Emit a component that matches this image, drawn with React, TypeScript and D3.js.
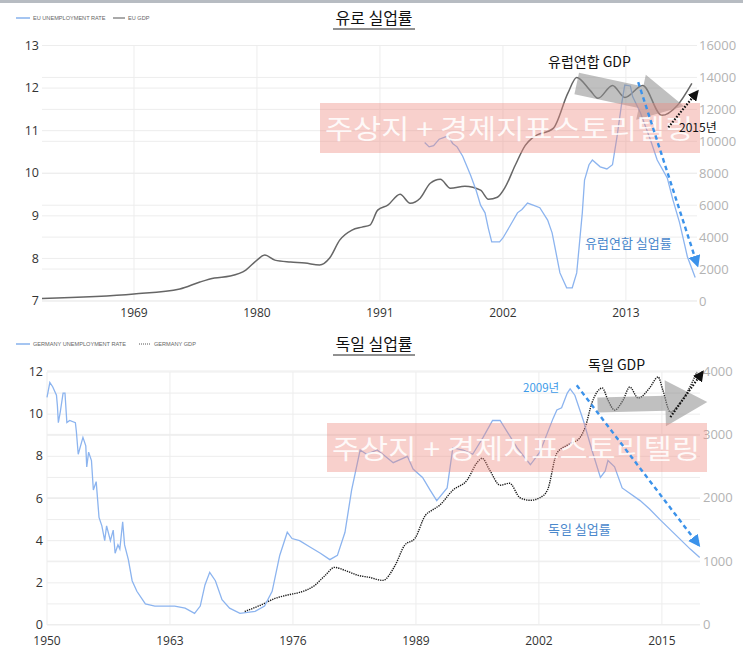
import React from "react";
import * as d3 from "d3";

// ---- Euro area: unemployment rate (%), [year, value]
const euUnemployment: [number, number][] = [
  [1995.0, 10.72], [1995.4, 10.62], [1995.8, 10.65], [1996.3, 10.8], [1996.8, 10.85],
  [1997.1, 10.88], [1997.5, 10.7], [1997.9, 10.62], [1998.4, 10.4], [1999.1, 9.96],
  [1999.6, 9.6], [2000.0, 9.25], [2000.4, 9.07], [2000.7, 8.7], [2001.0, 8.39],
  [2001.7, 8.39], [2002.0, 8.48], [2002.6, 8.75], [2003.3, 9.07], [2003.7, 9.15],
  [2004.2, 9.3], [2004.7, 9.25], [2005.3, 9.19], [2006.0, 8.9], [2006.4, 8.6],
  [2006.7, 8.2], [2007.1, 7.66], [2007.7, 7.31], [2008.2, 7.31], [2008.6, 7.66],
  [2009.1, 9.07], [2009.3, 9.84], [2009.7, 10.2], [2010.0, 10.31], [2010.7, 10.15],
  [2011.3, 10.1], [2011.8, 10.2], [2012.2, 10.85], [2012.6, 11.6], [2012.9, 12.07],
  [2013.4, 12.05], [2013.6, 11.8], [2014.3, 11.42], [2015.2, 10.78], [2015.8, 10.31],
  [2016.7, 9.89], [2017.2, 9.38], [2017.8, 8.84], [2018.5, 8.04], [2019.2, 7.55],
];

// ---- Euro area: GDP (billion USD), [year, value]
const euGdp: [number, number][] = [
  [1960.77, 160], [1969.0, 440], [1973.1, 750], [1974.9, 1190], [1976.2, 1440],
  [1977.6, 1560], [1979.0, 1940], [1980.0, 2560], [1980.7, 2875], [1981.6, 2560],
  [1983.0, 2440], [1984.3, 2375], [1985.6, 2250], [1986.5, 2690], [1987.4, 3810],
  [1988.5, 4440], [1989.4, 4625], [1990.1, 4750], [1990.8, 5690], [1991.7, 6000],
  [1992.8, 6690], [1993.7, 6125], [1994.6, 6440], [1995.5, 7375], [1996.4, 7625],
  [1997.3, 7060], [1998.6, 7190], [2000.0, 6940], [2000.7, 6375], [2001.5, 6500],
  [2002.2, 7125], [2003.1, 8500], [2004.0, 9750], [2004.7, 10250], [2006.5, 10810],
  [2007.8, 13000], [2008.6, 14000], [2009.8, 13190], [2010.5, 12690], [2011.8, 13500],
  [2012.9, 12750], [2014.5, 13500], [2016.2, 11625], [2017.6, 12250], [2018.9, 13625],
];

// ---- Germany: unemployment rate (%), [year, value]
const deUnemployment: [number, number][] = [
  [1950.0, 10.8], [1950.3, 11.5], [1950.6, 11.3], [1951.0, 10.9], [1951.1, 10.4],
  [1951.2, 9.6], [1951.4, 10.1], [1951.7, 11.0], [1951.9, 11.0], [1952.1, 9.6],
  [1952.4, 9.7], [1953.0, 9.6], [1953.1, 9.2], [1953.3, 8.1], [1953.8, 8.9],
  [1954.1, 8.5], [1954.2, 7.5], [1954.4, 8.2], [1954.7, 7.8], [1954.9, 6.4],
  [1955.2, 6.8], [1955.5, 5.1], [1955.8, 4.7], [1956.1, 4.0], [1956.3, 4.7],
  [1956.7, 4.0], [1957.0, 4.5], [1957.2, 3.4], [1957.5, 3.8], [1957.7, 3.6],
  [1958.0, 4.9], [1958.2, 3.8], [1958.6, 3.1], [1959.0, 2.1], [1959.5, 1.6],
  [1960.4, 1.0], [1961.4, 0.9], [1963.5, 0.9], [1964.6, 0.8], [1965.6, 0.55],
  [1966.2, 0.9], [1966.7, 1.9], [1967.2, 2.5], [1967.8, 2.1], [1968.5, 1.2],
  [1969.3, 0.8], [1970.4, 0.55], [1972.0, 0.65], [1973.0, 0.9], [1973.8, 1.6],
  [1974.6, 3.3], [1975.4, 4.4], [1975.9, 4.1], [1976.7, 4.0], [1977.8, 3.7],
  [1978.9, 3.4], [1979.9, 3.1], [1980.7, 3.3], [1981.5, 4.4], [1982.2, 6.4],
  [1983.1, 8.3], [1983.8, 8.1], [1984.9, 8.3], [1985.5, 8.1], [1986.6, 7.7],
  [1988.1, 8.0], [1988.7, 7.4], [1989.7, 7.0], [1990.5, 6.4], [1991.2, 5.9],
  [1992.3, 6.5], [1992.9, 8.4], [1994.0, 8.3], [1995.0, 8.1], [1996.1, 8.9],
  [1997.1, 9.7], [1997.9, 9.7], [1998.6, 9.2], [1999.7, 8.4], [2001.1, 7.6],
  [2002.1, 8.2], [2003.5, 9.8], [2003.9, 10.2], [2004.4, 10.3], [2005.0, 11.0],
  [2005.3, 11.2], [2005.8, 10.9], [2006.7, 9.7], [2007.6, 8.3], [2008.5, 7.0],
  [2009.0, 7.3], [2009.3, 7.8], [2010.0, 7.5], [2010.8, 6.5], [2012.7, 5.9],
  [2013.7, 5.5], [2014.8, 5.0], [2016.4, 4.3], [2018.0, 3.6], [2019.0, 3.2],
];

// ---- Germany: GDP (billion USD), [year, value]
const deGdp: [number, number][] = [
  [1970.9, 205], [1972.5, 300], [1974.1, 411], [1975.7, 474], [1976.7, 506],
  [1978.3, 617], [1979.4, 775], [1980.4, 901], [1981.5, 854], [1982.9, 775],
  [1984.1, 743], [1985.5, 696], [1986.8, 933], [1987.8, 1249], [1988.9, 1360],
  [1990.0, 1723], [1990.7, 1802], [1991.5, 1881], [1992.9, 2119], [1994.4, 2277],
  [1995.5, 2561], [1996.0, 2624], [1996.8, 2435], [1997.9, 2198], [1998.9, 2229],
  [2000.0, 2000], [2001.1, 1960], [2002.1, 2000], [2002.9, 2119], [2003.9, 2704],
  [2005.0, 2830], [2006.3, 2941], [2006.9, 3115], [2007.6, 3494], [2008.7, 3731],
  [2009.3, 3541], [2010.0, 3383], [2010.9, 3541], [2011.6, 3747], [2012.5, 3573],
  [2013.7, 3731], [2014.6, 3905], [2015.1, 3700], [2015.9, 3352], [2016.9, 3494],
  [2017.8, 3700], [2018.7, 3984],
];

// ---- Axis ticks
const euYearTicks = [1969, 1980, 1991, 2002, 2013];
const euRateTicks = [7, 8, 9, 10, 11, 12, 13];
const euGdpTicks = [0, 2000, 4000, 6000, 8000, 10000, 12000, 14000, 16000];
const deYearTicks = [1950, 1963, 1976, 1989, 2002, 2015];
const deRateTicks = [0, 2, 4, 6, 8, 10, 12];
const deRateGrid = [0, 1, 2, 3, 4, 5, 6, 7, 8, 9, 10, 11, 12];
const deGdpTicks = [0, 1000, 2000, 3000, 4000];

const KR = "'Noto Sans CJK KR', 'Noto Sans', sans-serif";
const NUM = "'Open Sans', 'DejaVu Sans', sans-serif";
const BLUE_LINE = "#8cb4ef";
const GRID = "#ededed";

// Polygon of a broad block arrow from (x1,y1) to (x2,y2)
function blockArrow(x1: number, y1: number, x2: number, y2: number, shaft: number, head: number, headLen: number) {
  const dx = x2 - x1, dy = y2 - y1;
  const L = Math.hypot(dx, dy);
  const ux = dx / L, uy = dy / L;
  const nx = -uy, ny = ux;
  const bx = x2 - ux * headLen, by = y2 - uy * headLen;
  const pts: [number, number][] = [
    [x1 + nx * shaft / 2, y1 + ny * shaft / 2],
    [bx + nx * shaft / 2, by + ny * shaft / 2],
    [bx + nx * head / 2, by + ny * head / 2],
    [x2, y2],
    [bx - nx * head / 2, by - ny * head / 2],
    [bx - nx * shaft / 2, by - ny * shaft / 2],
    [x1 - nx * shaft / 2, y1 - ny * shaft / 2],
  ];
  return pts.map((p) => p.join(",")).join(" ");
}

function Panel(props: {
  title: string;
  titleY: number;
  legend: [string, string];
  legendY: number;
  legendGap: number;
  gdpDotted: boolean;
  x: d3.ScaleLinear<number, number>;
  yL: d3.ScaleLinear<number, number>;
  yR: d3.ScaleLinear<number, number>;
  yearTicks: number[];
  rateTicks: number[];
  rateGrid: number[];
  gdpTicks: number[];
  rate: [number, number][];
  gdp: [number, number][];
  leftLabelX: number;
  rightLabelX: number;
  yearLabelY: number;
  children?: React.ReactNode;
}) {
  const { x, yL, yR } = props;
  const [x0, x1] = x.range();
  const [yb, yt] = yL.range();
  const rateLine = d3.line<[number, number]>().x((d) => x(d[0])).y((d) => yL(d[1])).curve(d3.curveLinear);
  const gdpLine = d3.line<[number, number]>().x((d) => x(d[0])).y((d) => yR(d[1])).curve(d3.curveMonotoneX);
  const lx = 16;
  const g = props.legendGap;
  return (
    <g>
      {/* legend */}
      <line x1={lx} x2={lx + 14} y1={props.legendY} y2={props.legendY} stroke="#6a9ee8" strokeWidth={1.2} />
      <text x={lx + 17} y={props.legendY + 2} fontSize={5.6} fontFamily="'Liberation Sans', Arial, sans-serif" fill="#666">
        {props.legend[0]}
      </text>
      <line
        x1={lx + 97 + g}
        x2={lx + 109 + g}
        y1={props.legendY}
        y2={props.legendY}
        stroke="#555"
        strokeWidth={1}
        strokeDasharray={props.gdpDotted ? "1,1" : undefined}
      />
      <text x={lx + 112 + g} y={props.legendY + 2} fontSize={5.6} fontFamily="'Liberation Sans', Arial, sans-serif" fill="#666">
        {props.legend[1]}
      </text>

      {/* title */}
      <text x={374} y={props.titleY} textAnchor="middle" fontSize={16} fontFamily={KR} fill="#111">
        {props.title}
      </text>
      <line x1={333} x2={415} y1={props.titleY + 5} y2={props.titleY + 5} stroke="#222" strokeWidth={1} />

      {/* grid */}
      {props.rateGrid.map((t) => (
        <line key={"gl" + t} x1={x0} x2={x1} y1={yL(t)} y2={yL(t)} stroke={GRID} strokeWidth={1} />
      ))}
      {props.gdpTicks.map((t) => (
        <line key={"gr" + t} x1={x0} x2={x1} y1={yR(t)} y2={yR(t)} stroke={GRID} strokeWidth={1} />
      ))}
      {props.yearTicks.map((t) => (
        <line key={"gv" + t} x1={x(t)} x2={x(t)} y1={yt} y2={yb} stroke={GRID} strokeWidth={1} />
      ))}

      {/* axes labels */}
      {props.rateTicks.map((t) => (
        <text key={"l" + t} x={props.leftLabelX} y={yL(t)} dy="0.33em" textAnchor="end" fontSize={12.5} fontFamily={NUM} fill="#333">
          {t}
        </text>
      ))}
      {props.gdpTicks.map((t) => (
        <text key={"r" + t} x={props.rightLabelX} y={yR(t)} dy="0.35em" textAnchor="start" fontSize={13} fontFamily={NUM} fill="#b3b3b3">
          {t}
        </text>
      ))}
      {props.yearTicks.map((t) => (
        <text key={"x" + t} x={x(t)} y={props.yearLabelY} textAnchor="middle" fontSize={12} fontFamily={NUM} fill="#333">
          {t}
        </text>
      ))}

      {/* series */}
      <path d={gdpLine(props.gdp) ?? ""} fill="none" stroke={props.gdpDotted ? "#1a1a1a" : "#666"}
        strokeWidth={props.gdpDotted ? 1.4 : 1.5} strokeDasharray={props.gdpDotted ? "1.3,1" : undefined} />
      <path d={rateLine(props.rate) ?? ""} fill="none" stroke={BLUE_LINE} strokeWidth={1.3} />

      {props.children}
    </g>
  );
}

export default function App() {
  // Euro area panel scales
  const xEU = d3.scaleLinear().domain([1960.77, 2019.36]).range([42, 697]);
  const yEUL = d3.scaleLinear().domain([7, 13]).range([301, 45.5]);
  const yEUR = d3.scaleLinear().domain([0, 16000]).range([301, 45.5]);
  // Germany panel scales
  const xDE = d3.scaleLinear().domain([1950, 2019.03]).range([47, 700]);
  const yDEL = d3.scaleLinear().domain([0, 12]).range([625, 372]);
  const yDER = d3.scaleLinear().domain([0, 4000]).range([624.5, 371]);

  const euRange = d3.range(7, 14);

  return (
    <svg width={743} height={651} viewBox="0 0 743 651"
      style={{ position: "absolute", left: 0, top: 0, background: "#fff" }}>
      <defs>
        <marker id="headBlue" viewBox="0 0 10 10" refX="8" refY="5" markerWidth="5" markerHeight="5" orient="auto" markerUnits="strokeWidth">
          <path d="M0,0 L10,5 L0,10 z" fill="#3b92ea" />
        </marker>
        <marker id="headBlack" viewBox="0 0 10 10" refX="8" refY="5" markerWidth="5" markerHeight="5" orient="auto" markerUnits="strokeWidth">
          <path d="M0,0 L10,5 L0,10 z" fill="#111" />
        </marker>
      </defs>
      <rect x={0} y={0} width={743} height={651} fill="#fff" />
      <rect x={0} y={0} width={743} height={3} fill="#b7bcc2" />

      {/* ===== Euro area ===== */}
      <Panel
        title="유로 실업률" titleY={24} legend={["EU UNEMPLOYMENT RATE", "EU GDP"]} legendY={18} legendGap={0}
        gdpDotted={false} x={xEU} yL={yEUL} yR={yEUR}
        yearTicks={euYearTicks} rateTicks={euRateTicks} rateGrid={euRange} gdpTicks={euGdpTicks}
        rate={euUnemployment} gdp={euGdp} leftLabelX={39} rightLabelX={699} yearLabelY={317}
      >
        <polygon
          points={blockArrow(xEU(2008.6), yEUR(13625), xEU(2018.2), yEUR(12190), 22, 46, 44)}
          fill="#8c8c8c" fillOpacity={0.55}
        />
        <rect x={320} y={103} width={380} height={50} fill="#ee8a80" fillOpacity={0.4} />
        <text x={325} y={139} fontSize={27} fontFamily={KR} fill="#fff" fillOpacity={0.88} textLength={368} lengthAdjust="spacingAndGlyphs">
          주상지 + 경제지표스토리텔링
        </text>
        <text x={548} y={67} fontSize={14} fontFamily={KR} fill="#111">유럽연합 GDP</text>
        <line x1={xEU(2014.1)} y1={yEUL(12.14)} x2={xEU(2019.4)} y2={yEUL(7.84)}
          stroke="#3b92ea" strokeWidth={2.4} strokeDasharray="4.5,3.5" markerEnd="url(#headBlue)" />
        <text x={585} y={248} fontSize={13} fontFamily={KR} fill="#4a88cc">유럽연합 실업률</text>
        <line x1={xEU(2016.8)} y1={yEUR(10875)} x2={xEU(2019.4)} y2={yEUR(13125)}
          stroke="#111" strokeWidth={2.2} strokeDasharray="1.6,1.6" markerEnd="url(#headBlack)" />
        <text x={679} y={132} fontSize={12} fontFamily={KR} fill="#111">2015년</text>
      </Panel>

      {/* ===== Germany ===== */}
      <Panel
        title="독일 실업률" titleY={350} legend={["GERMANY UNEMPLOYMENT RATE", "GERMANY GDP"]} legendY={344} legendGap={26}
        gdpDotted={true} x={xDE} yL={yDEL} yR={yDER}
        yearTicks={deYearTicks} rateTicks={deRateTicks} rateGrid={deRateGrid} gdpTicks={deGdpTicks}
        rate={deUnemployment} gdp={deGdp} leftLabelX={43} rightLabelX={703} yearLabelY={645}
      >
        <polygon
          points={blockArrow(xDE(2008.2), yDER(3462), xDE(2019.8), yDER(3510), 15, 46, 42)}
          fill="#8c8c8c" fillOpacity={0.55}
        />
        <rect x={327} y={423} width={380} height={49} fill="#ee8a80" fillOpacity={0.4} />
        <text x={332} y={459} fontSize={27} fontFamily={KR} fill="#fff" fillOpacity={0.88} textLength={368} lengthAdjust="spacingAndGlyphs">
          주상지 + 경제지표스토리텔링
        </text>
        <text x={588} y={370} fontSize={14} fontFamily={KR} fill="#111">독일 GDP</text>
        <text x={523} y={392} fontSize={11.5} fontFamily={KR} fill="#3d9be9">2009년</text>
        <line x1={xDE(2006.0)} y1={yDEL(11.37)} x2={xDE(2018.9)} y2={yDEL(3.79)}
          stroke="#3b92ea" strokeWidth={2.4} strokeDasharray="4.5,3.5" markerEnd="url(#headBlue)" />
        <text x={548} y={534} fontSize={13} fontFamily={KR} fill="#4a88cc">독일 실업률</text>
        <line x1={xDE(2015.9)} y1={yDER(3273)} x2={xDE(2019.3)} y2={yDER(3984)}
          stroke="#111" strokeWidth={2.2} strokeDasharray="1.6,1.6" markerEnd="url(#headBlack)" />
      </Panel>
    </svg>
  );
}
